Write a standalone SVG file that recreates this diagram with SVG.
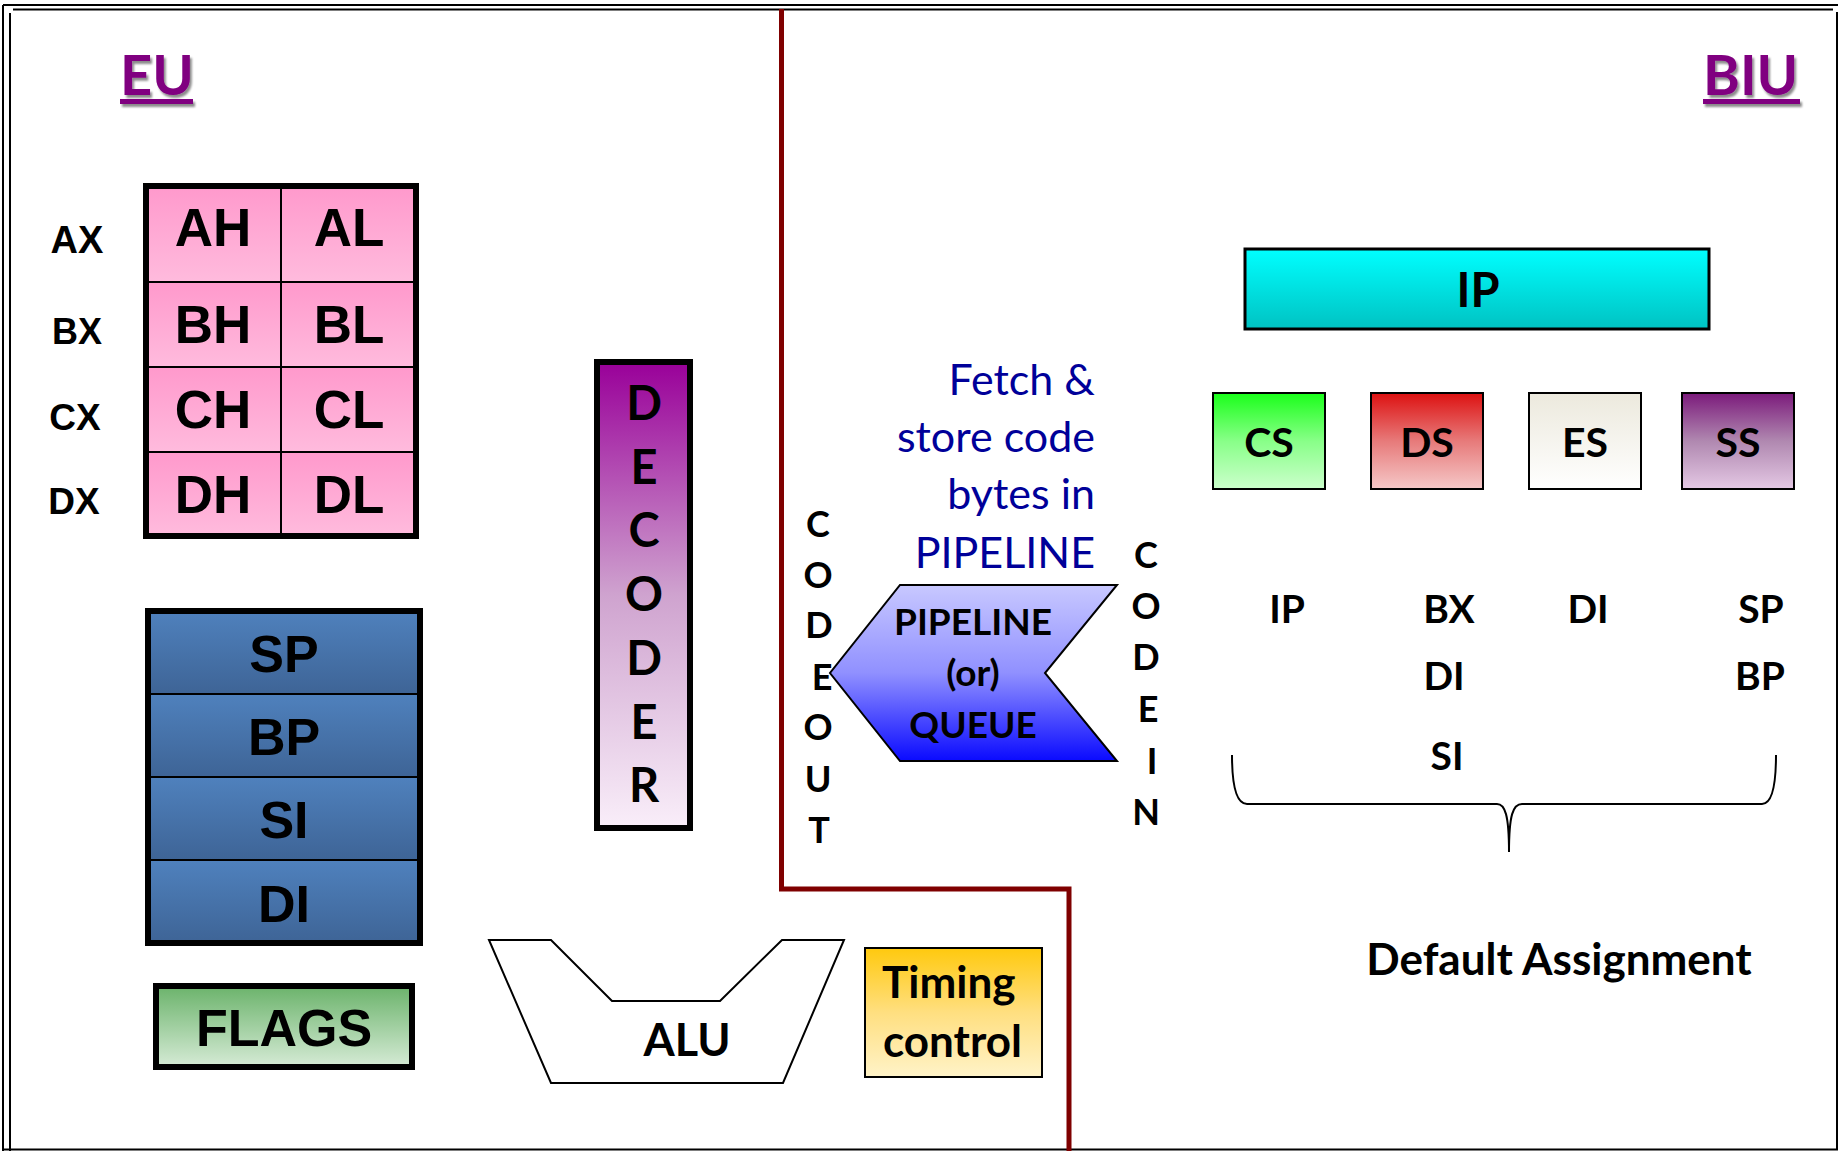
<svg xmlns="http://www.w3.org/2000/svg" width="1843" height="1151" viewBox="0 0 1843 1151">
<defs>
<linearGradient id="gPink" x1="0" y1="0" x2="0" y2="1"><stop offset="0" stop-color="#FF99CC"/><stop offset="1" stop-color="#FFBBDD"/></linearGradient>
<linearGradient id="gBlue" x1="0" y1="0" x2="0" y2="1"><stop offset="0" stop-color="#4F81BD"/><stop offset="1" stop-color="#3E6496"/></linearGradient>
<linearGradient id="gGreen" x1="0" y1="0" x2="0" y2="1"><stop offset="0" stop-color="#6BB36B"/><stop offset="1" stop-color="#D6EBD6"/></linearGradient>
<linearGradient id="gDec" x1="0" y1="0" x2="0" y2="1"><stop offset="0" stop-color="#990099"/><stop offset="0.5" stop-color="#CFA3CF"/><stop offset="1" stop-color="#F9EEF9"/></linearGradient>
<linearGradient id="gTime" x1="0" y1="0" x2="0" y2="1"><stop offset="0" stop-color="#FFC90E"/><stop offset="0.5" stop-color="#FFDF80"/><stop offset="1" stop-color="#FFF3C8"/></linearGradient>
<linearGradient id="gPipe" x1="0" y1="0" x2="0" y2="1"><stop offset="0" stop-color="#C8C8FF"/><stop offset="0.5" stop-color="#9090FF"/><stop offset="1" stop-color="#0A0AFF"/></linearGradient>
<linearGradient id="gIP" x1="0" y1="0" x2="0" y2="1"><stop offset="0" stop-color="#00FFFF"/><stop offset="1" stop-color="#00C2C2"/></linearGradient>
<linearGradient id="gCS" x1="0" y1="0" x2="0" y2="1"><stop offset="0" stop-color="#1AFF1A"/><stop offset="0.5" stop-color="#88FF88"/><stop offset="1" stop-color="#CCFFCC"/></linearGradient>
<linearGradient id="gDS" x1="0" y1="0" x2="0" y2="1"><stop offset="0" stop-color="#DD1111"/><stop offset="0.5" stop-color="#E77A7A"/><stop offset="1" stop-color="#F5C8C8"/></linearGradient>
<linearGradient id="gES" x1="0" y1="0" x2="0" y2="1"><stop offset="0" stop-color="#ECE9DD"/><stop offset="1" stop-color="#FFFFFF"/></linearGradient>
<linearGradient id="gSS" x1="0" y1="0" x2="0" y2="1"><stop offset="0" stop-color="#7B1A7B"/><stop offset="0.5" stop-color="#B088B0"/><stop offset="1" stop-color="#E4C8E4"/></linearGradient>
<filter id="shadow" x="-10%" y="-10%" width="130%" height="140%"><feDropShadow dx="2" dy="3" stdDeviation="1.2" flood-color="#000" flood-opacity="0.45"/></filter>
</defs>
<style>
.ar{font-family:"Liberation Sans",Arial,sans-serif;font-weight:bold;fill:#000;text-anchor:middle}
.ca{font-family:Lato,"Open Sans",sans-serif;font-weight:bold;fill:#000;text-anchor:middle}
.st{text-anchor:start}
.title{font-family:Lato,"Open Sans",sans-serif;font-weight:bold;font-size:56px;fill:#800080}
.fetch{font-family:Lato,"Open Sans",sans-serif;font-size:43px;fill:#000099;text-anchor:end}
.thick{stroke:#000;stroke-width:6}
.thin{stroke:#000;stroke-width:2}
.frame{stroke:#000;stroke-width:2;fill:none}
</style>

<g id="frame">
<line class="frame" x1="3" y1="5" x2="1838" y2="5"/>
<line class="frame" x1="13" y1="9.5" x2="1833" y2="9.5"/>
<line class="frame" x1="3" y1="5" x2="3" y2="1151"/>
<line class="frame" x1="10" y1="13" x2="10" y2="1151"/>
<line class="frame" x1="1837" y1="12" x2="1837" y2="1150"/>
<line class="frame" x1="3" y1="1149.5" x2="1838" y2="1149.5"/>
</g>

<g id="divider">
<path d="M781.5,9 V889 H1069 V1151" fill="none" stroke="#7F0000" stroke-width="5"/>
</g>

<g id="eu-title" filter="url(#shadow)">
<text class="title" x="120" y="95">EU</text>
<rect x="120" y="99" width="73" height="5" fill="#800080"/>
</g>
<g id="biu-title" filter="url(#shadow)">
<text class="title" x="1703" y="95">BIU</text>
<rect x="1703" y="99" width="97" height="5" fill="#800080"/>
</g>

<g id="general-registers">
<rect x="146" y="186" width="135" height="96" fill="url(#gPink)" class="thin"/>
<rect x="281" y="186" width="135" height="96" fill="url(#gPink)" class="thin"/>
<rect x="146" y="282" width="135" height="85" fill="url(#gPink)" class="thin"/>
<rect x="281" y="282" width="135" height="85" fill="url(#gPink)" class="thin"/>
<rect x="146" y="367" width="135" height="85" fill="url(#gPink)" class="thin"/>
<rect x="281" y="367" width="135" height="85" fill="url(#gPink)" class="thin"/>
<rect x="146" y="452" width="135" height="84" fill="url(#gPink)" class="thin"/>
<rect x="281" y="452" width="135" height="84" fill="url(#gPink)" class="thin"/>
<rect x="146" y="186" width="270" height="350" fill="none" class="thick"/>
<text class="ar" font-size="53" x="213" y="246">AH</text>
<text class="ar" font-size="53" x="349" y="246">AL</text>
<text class="ar" font-size="53" x="213" y="343">BH</text>
<text class="ar" font-size="53" x="349" y="343">BL</text>
<text class="ar" font-size="53" x="213" y="428">CH</text>
<text class="ar" font-size="53" x="349" y="428">CL</text>
<text class="ar" font-size="53" x="213" y="513">DH</text>
<text class="ar" font-size="53" x="349" y="513">DL</text>
<text class="ar" font-size="38" x="77" y="253">AX</text>
<text class="ar" font-size="36" x="77" y="344">BX</text>
<text class="ar" font-size="37" x="75" y="430">CX</text>
<text class="ar" font-size="37" x="74" y="514">DX</text>
</g>

<g id="pointer-index-registers">
<rect x="148" y="611" width="272" height="83" fill="url(#gBlue)" class="thin"/>
<rect x="148" y="694" width="272" height="83" fill="url(#gBlue)" class="thin"/>
<rect x="148" y="777" width="272" height="83" fill="url(#gBlue)" class="thin"/>
<rect x="148" y="860" width="272" height="83" fill="url(#gBlue)" class="thin"/>
<rect x="148" y="611" width="272" height="332" fill="none" class="thick"/>
<text class="ar" font-size="52" x="284" y="672">SP</text>
<text class="ar" font-size="52" x="284" y="755">BP</text>
<text class="ar" font-size="52" x="284" y="838">SI</text>
<text class="ar" font-size="52" x="284" y="922">DI</text>
</g>

<g id="flags">
<rect x="156" y="986" width="256" height="81" fill="url(#gGreen)" class="thick"/>
<text class="ar" font-size="52" x="284" y="1046">FLAGS</text>
</g>

<g id="decoder">
<rect x="597" y="362" width="93" height="466" fill="url(#gDec)" class="thick"/>
<text class="ca" font-size="47" x="644" y="420">D</text>
<text class="ca" font-size="47" x="644" y="484">E</text>
<text class="ca" font-size="47" x="644" y="547">C</text>
<text class="ca" font-size="47" x="644" y="611">O</text>
<text class="ca" font-size="47" x="644" y="675">D</text>
<text class="ca" font-size="47" x="644" y="739">E</text>
<text class="ca" font-size="47" x="644" y="802">R</text>
</g>

<g id="alu">
<polygon points="489,940 551,940 612,1001 720,1001 782,940 844,940 783,1083 551,1083" fill="#FFFFFF" class="thin"/>
<text class="ca" font-size="45" x="687" y="1056">ALU</text>
</g>

<g id="timing-control">
<rect x="865" y="948" width="177" height="129" fill="url(#gTime)" class="thin"/>
<text class="ca st" font-size="44" x="882" y="998">Timing</text>
<text class="ca st" font-size="44" x="883" y="1057">control</text>
</g>

<g id="fetch-note">
<text class="fetch" x="1095" y="395">Fetch &amp;</text>
<text class="fetch" x="1095" y="452">store code</text>
<text class="fetch" x="1095" y="509">bytes in</text>
<text class="fetch" x="1095" y="568">PIPELINE</text>
</g>

<g id="pipeline-queue">
<polygon points="900,585 1117,585 1045,673 1117,761 900,761 830,673" fill="url(#gPipe)" class="thin"/>
<text class="ca" font-size="37" x="973" y="635">PIPELINE</text>
<text class="ca" font-size="37" x="973" y="686">(or)</text>
<text class="ca" font-size="37" x="973" y="738">QUEUE</text>
</g>

<g id="code-out">
<text class="ca" font-size="36" x="818" y="537">C</text>
<text class="ca" font-size="36" x="818" y="588">O</text>
<text class="ca" font-size="36" x="819" y="638">D</text>
<text class="ca" font-size="36" x="822" y="690">E</text>
<text class="ca" font-size="36" x="818" y="740">O</text>
<text class="ca" font-size="36" x="818" y="792">U</text>
<text class="ca" font-size="36" x="819" y="843">T</text>
</g>

<g id="code-in">
<text class="ca" font-size="36" x="1146" y="568">C</text>
<text class="ca" font-size="36" x="1146" y="619">O</text>
<text class="ca" font-size="36" x="1146" y="670">D</text>
<text class="ca" font-size="36" x="1148" y="722">E</text>
<text class="ca" font-size="36" x="1152" y="774">I</text>
<text class="ca" font-size="36" x="1146" y="825">N</text>
</g>

<g id="ip">
<rect x="1245" y="249" width="464" height="80" fill="url(#gIP)" stroke="#000" stroke-width="3"/>
<text class="ca" font-size="47" x="1478" y="307">IP</text>
</g>
<g id="cs">
<rect x="1213" y="393" width="112" height="96" fill="url(#gCS)" class="thin"/>
<text class="ca" font-size="41" x="1269" y="457">CS</text>
</g>
<g id="ds">
<rect x="1371" y="393" width="112" height="96" fill="url(#gDS)" class="thin"/>
<text class="ca" font-size="41" x="1427" y="457">DS</text>
</g>
<g id="es">
<rect x="1529" y="393" width="112" height="96" fill="url(#gES)" class="thin"/>
<text class="ca" font-size="41" x="1585" y="457">ES</text>
</g>
<g id="ss">
<rect x="1682" y="393" width="112" height="96" fill="url(#gSS)" class="thin"/>
<text class="ca" font-size="41" x="1738" y="457">SS</text>
</g>

<g id="default-assignment">
<text class="ca" font-size="39" x="1287" y="623">IP</text>
<text class="ca" font-size="39" x="1449" y="623">BX</text>
<text class="ca" font-size="39" x="1588" y="623">DI</text>
<text class="ca" font-size="39" x="1761" y="623">SP</text>
<text class="ca" font-size="39" x="1444" y="690">DI</text>
<text class="ca" font-size="39" x="1760" y="690">BP</text>
<text class="ca" font-size="39" x="1447" y="770">SI</text>
<text class="ca" font-size="44" x="1559" y="975">Default Assignment</text>
</g>

<g id="connectors">
<path d="M1232,755 C1232,790 1238,804 1247,804 L1497,804 C1505,804 1509,815 1509,852 C1509,815 1513,804 1522,804 L1762,804 C1771,804 1776,790 1776,755" fill="none" stroke="#000" stroke-width="2"/>
</g>
</svg>
